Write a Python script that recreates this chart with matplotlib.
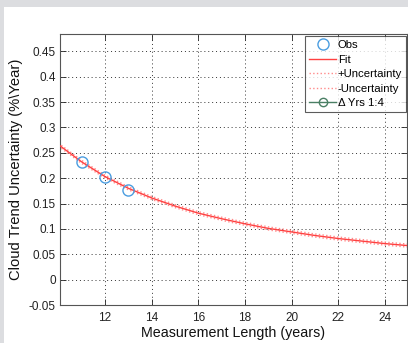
import matplotlib
matplotlib.use("Agg")
import matplotlib.pyplot as plt
from matplotlib.patches import Rectangle
import numpy as np

plt.rcParams['font.family'] = ['Liberation Sans', 'DejaVu Sans']

# Data
obs_years = [11, 12, 13]
obs_unc = [0.231, 0.202, 0.177]
fit_years = [10, 11, 12, 13, 14, 15, 16, 17, 18, 19, 20, 21, 22, 23, 24, 25]
fit_unc = [0.266, 0.232, 0.203, 0.180, 0.161, 0.145, 0.131, 0.120,
           0.110, 0.101, 0.094, 0.087, 0.081, 0.076, 0.071, 0.067]
unc_plus = [v + 0.003 for v in fit_unc]
unc_minus = [v - 0.003 for v in fit_unc]
x_ticks = [12, 14, 16, 18, 20, 22, 24]
y_ticks = [-0.05, 0, 0.05, 0.1, 0.15, 0.2, 0.25, 0.3, 0.35, 0.4, 0.45]
y_ticklabels = ['-0.05', '0', '0.05', '0.1', '0.15', '0.2', '0.25', '0.3', '0.35', '0.4', '0.45']

W, H = 408, 343
fig = plt.figure(figsize=(W / 100, H / 100), dpi=100)
fig.patch.set_facecolor('white')
# grey window chrome strips
fig.patches.append(Rectangle((0, 1 - 7 / H), 1, 7 / H, transform=fig.transFigure,
                             facecolor='#dcdde0', edgecolor='none', zorder=0))
fig.patches.append(Rectangle((0, 0), 4 / W, 1, transform=fig.transFigure,
                             facecolor='#dcdde0', edgecolor='none', zorder=0))

left, right, top, bottom = 60, 407, 34, 305
ax = fig.add_axes([left / W, 1 - bottom / H, (right - left) / W, (bottom - top) / H])

ax.plot(obs_years, obs_unc, 'o', mfc='none', mec='#4a9de0', ms=8, mew=1.0, label='Obs', zorder=5)
ax.plot(fit_years, fit_unc, '-', color='#ff4040', lw=1.0, label='Fit', zorder=4)
ax.plot(fit_years, unc_plus, ':', color='#ff8a8a', lw=1.0, label='+Uncertainty', zorder=3)
ax.plot(fit_years, unc_minus, ':', color='#ff8a8a', lw=1.0, label='-Uncertainty', zorder=3)
ax.plot([np.nan], [np.nan], '-o', color='#4a7f64', mfc='none', ms=6, lw=1.0, label='Δ Yrs 1:4')

ax.set_xlim(10.07, 24.95)
ax.set_ylim(-0.05, 0.484)
ax.set_xticks(x_ticks)
ax.set_xticklabels([str(t) for t in x_ticks])
ax.set_yticks(y_ticks)
ax.set_yticklabels(y_ticklabels)
ax.tick_params(direction='in', top=True, right=True, length=4, width=0.6,
               labelsize=8.5, colors='#222222')
ax.tick_params(axis='x', pad=5)
ax.tick_params(axis='y', pad=3)
ax.grid(True, linestyle=(0, (1, 3)), color='#333333', lw=0.7)
for s in ax.spines.values():
    s.set_color('#555555')
    s.set_linewidth(0.8)

ax.set_xlabel('Measurement Length (years)', fontsize=10.3, color='#111111', labelpad=1.5)
ax.set_ylabel('Cloud Trend Uncertainty (%\\Year)', fontsize=10.6, color='#111111', labelpad=4)

leg = ax.legend(loc='upper right', bbox_to_anchor=(1.0 - 1 / (right - left), 1 - 2 / (bottom - top)),
                fontsize=8.2, frameon=True, fancybox=False, borderpad=0.35,
                handlelength=2.4, handletextpad=0.1, labelspacing=0.4, borderaxespad=0)
leg.get_frame().set_edgecolor('#333333')
leg.get_frame().set_linewidth(0.8)

fig.savefig('out.png', dpi=100)
